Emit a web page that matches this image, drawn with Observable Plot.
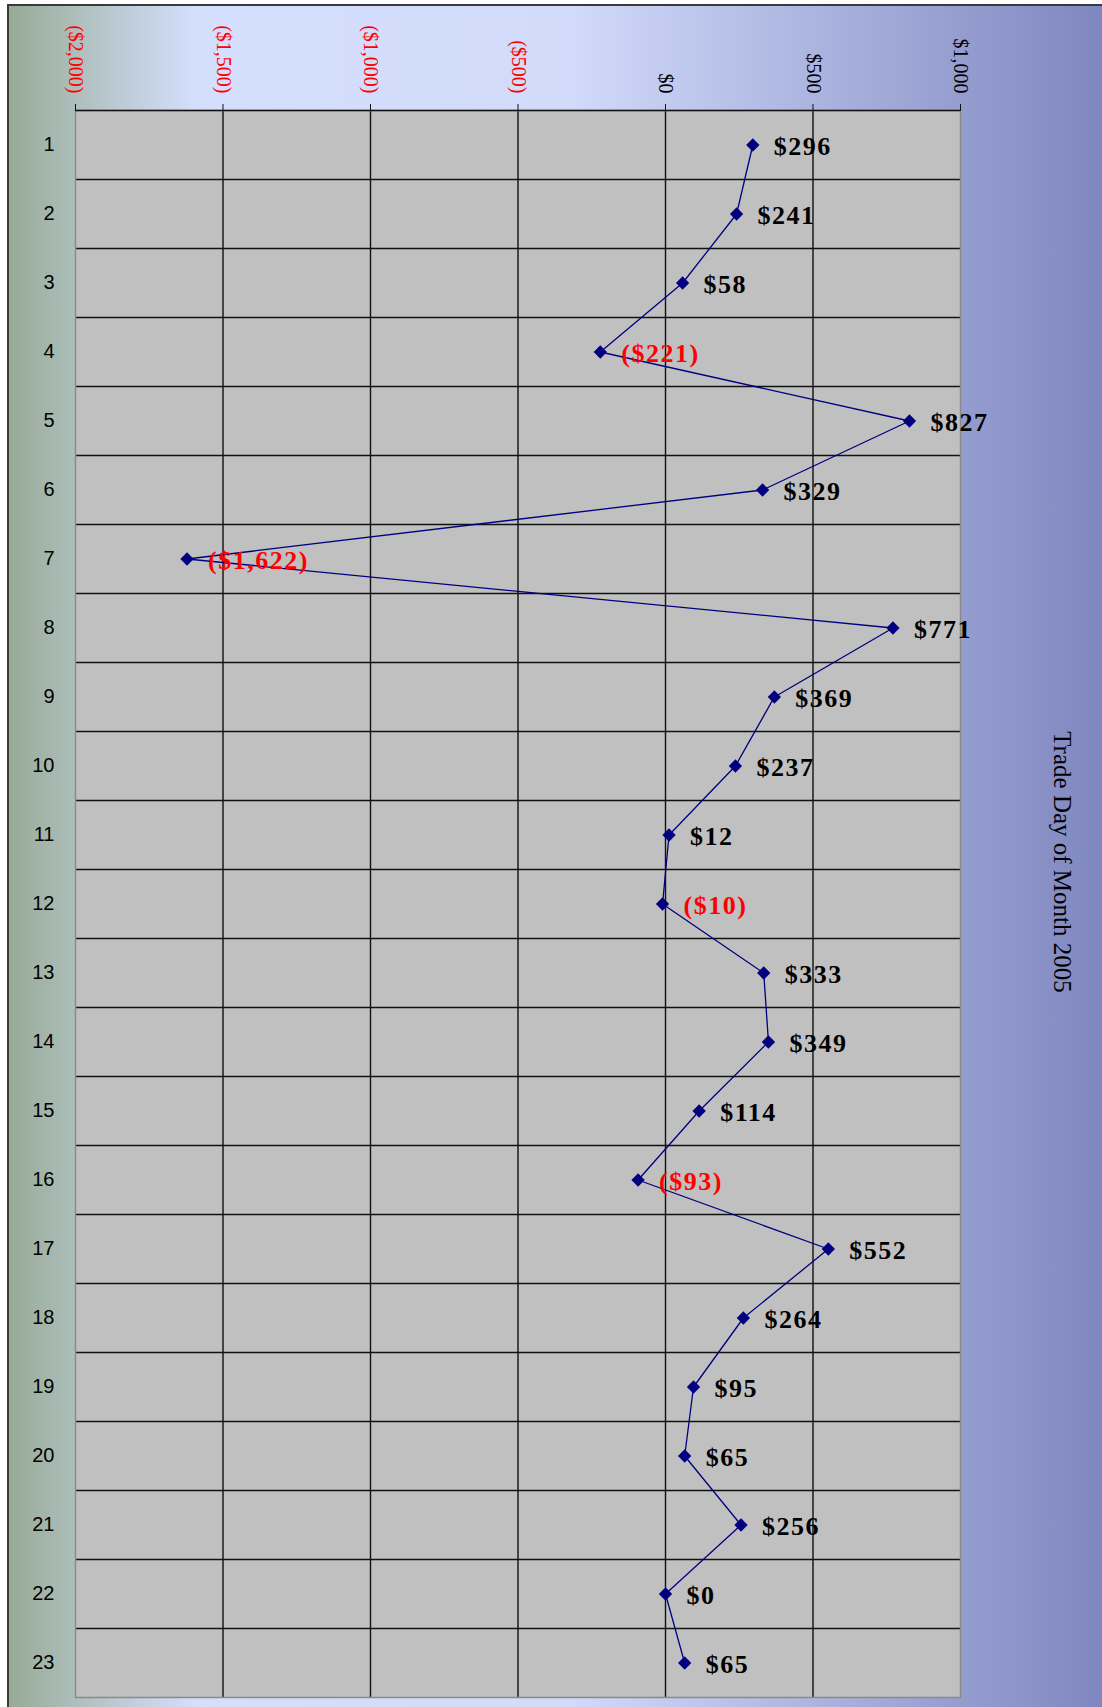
<!DOCTYPE html>
<html><head><meta charset="utf-8">
<script src="https://cdn.jsdelivr.net/npm/d3@7"></script>
<script src="https://cdn.jsdelivr.net/npm/@observablehq/plot@0.6"></script>
<style>
html,body{margin:0;padding:0;background:#fff;}
#wrap{position:relative;width:1102px;height:1707px;overflow:hidden;}
#bg{position:absolute;left:7px;top:4px;right:0;bottom:0;border-left:2px solid #3a3a3a;border-top:2px solid #3a3a3a;
background:linear-gradient(to right,#97ab95 0%,#b5c4c8 8%,#d4dffd 17%,#d2dbfa 51%,#7f87c0 100%);}
#chart{position:absolute;left:0;top:0;}
</style></head>
<body><div id="wrap"><div id="bg"></div><div id="chart"></div></div>
<script>
const days = [1,2,3,4,5,6,7,8,9,10,11,12,13,14,15,16,17,18,19,20,21,22,23];
const pnl = [296,241,58,-221,827,329,-1622,771,369,237,12,-10,333,349,114,-93,552,264,95,65,256,0,65];
const xTicks = [-2000,-1500,-1000,-500,0,500,1000];
const yTitle = "Trade Day of Month 2005";

const data = days.map((d,i)=>({day:d, value:pnl[i]}));
const fmt = v => v < 0 ? `($${d3.format(",")(-v)})` : `$${d3.format(",")(v)}`;

const chart = Plot.plot({
  width:1102, height:1707,
  marginTop:110, marginBottom:10, marginLeft:75, marginRight:142,
  style:{background:"transparent", overflow:"visible"},
  x:{domain:[-2000,1000]},
  y:{domain:[0.5,23.5], reverse:true},
  marks:[
    Plot.frame({fill:"#c0c0c0"}),
    Plot.ruleX(xTicks.slice(1,-1), {stroke:"#111", strokeWidth:1.4}),
    Plot.ruleY(days.slice(1).map(d=>d-0.5), {stroke:"#111", strokeWidth:1.4}),
    Plot.frame({stroke:"#8a8a8a", strokeWidth:1.5}),
    Plot.ruleY([0.5], {stroke:"#111", strokeWidth:1.5}),
    Plot.axisX({anchor:"top", ticks:xTicks, tickFormat:fmt, tickRotate:90, tickSize:7, tickPadding:10,
      fontSize:20, fontFamily:"Liberation Serif", fill:d=> d<0?"red":"black", stroke:"#111", label:null}),
    Plot.axisY({ticks:days, tickSize:0, tickPadding:21, fontSize:20, fontFamily:"Liberation Sans", label:null}),
    Plot.line(data, {x:"value", y:"day", stroke:"#000080", strokeWidth:1.3}),
    Plot.dot(data, {x:"value", y:"day", symbol:"diamond2", r:6, fill:"#000080"}),
    Plot.text(data, {x:"value", y:"day", text:d=>fmt(d.value), fill:d=> d.value<0?"red":"black",
      textAnchor:"start", dx:21, dy:2, fontSize:26, fontWeight:"bold", fontFamily:"Liberation Serif"}),
    Plot.text([yTitle], {frameAnchor:"right", textAnchor:"middle", dx:101, dy:-42, rotate:90, fontSize:25,
      fontFamily:"Liberation Serif", fill:"black"})
  ]
});
d3.select(chart).selectAll("g[font-size='26'] text").style("letter-spacing","1.5px");
document.getElementById("chart").appendChild(chart);
</script>
</body></html>
